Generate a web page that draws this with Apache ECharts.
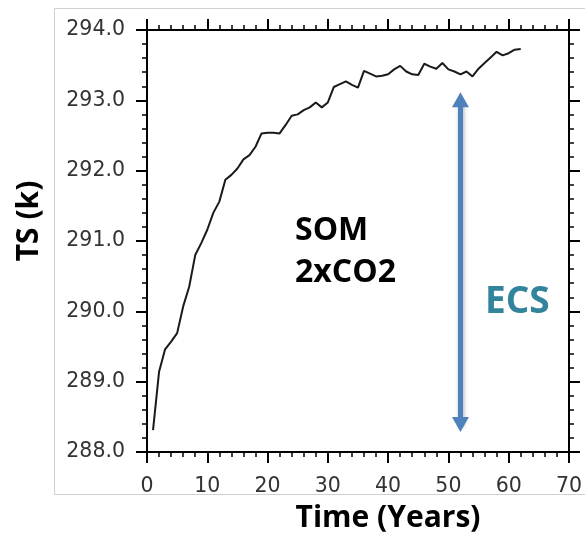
<!DOCTYPE html>
<html>
<head>
<meta charset="utf-8">
<script src="https://cdn.jsdelivr.net/npm/echarts@6/dist/echarts.min.js"></script>
<style>
  html, body { margin: 0; padding: 0; background: #fff; }
  #chart { width: 585px; height: 537px; }
</style>
</head>
<body>
<div id="chart"></div>
<script>
// Slab-ocean model run with doubled CO2: global-mean surface temperature by year
const years = [
  1, 2, 3, 4, 5, 6, 7, 8, 9, 10,
  11, 12, 13, 14, 15, 16, 17, 18, 19, 20,
  21, 22, 23, 24, 25, 26, 27, 28, 29, 30,
  31, 32, 33, 34, 35, 36, 37, 38, 39, 40,
  41, 42, 43, 44, 45, 46, 47, 48, 49, 50,
  51, 52, 53, 54, 55, 56, 57, 58, 59, 60,
  61, 62
];
const tsValues = [
  288.31, 289.14, 289.46, 289.57, 289.69, 290.07, 290.35, 290.80, 290.97, 291.16,
  291.40, 291.56, 291.87, 291.94, 292.03, 292.16, 292.22, 292.34, 292.53, 292.54,
  292.54, 292.53, 292.65, 292.78, 292.80, 292.86, 292.90, 292.97, 292.90, 292.97,
  293.19, 293.23, 293.27, 293.22, 293.18, 293.42, 293.38, 293.34, 293.35, 293.37,
  293.44, 293.49, 293.41, 293.37, 293.36, 293.52, 293.48, 293.45, 293.53, 293.44,
  293.41, 293.37, 293.41, 293.34, 293.45, 293.53, 293.61, 293.69, 293.64, 293.67,
  293.72, 293.73
];
// Equilibrium climate sensitivity double arrow (year, arrowhead centres in TS)
const ecsYear = 52;
const ecsFrom = 288.39;
const ecsTo = 293.01;

const xTicks = { min: 0, max: 70, interval: 10 };
const yTicks = { min: 288, max: 294, interval: 1 };

const points = years.map((y, i) => [y, tsValues[i]]);

const frameAxis = {
  axisLine: { show: true, onZero: false, lineStyle: { color: '#000', width: 2 } },
  axisTick: { show: true, inside: false, length: 11, lineStyle: { color: '#000', width: 2 } },
  minorTick: { show: true, splitNumber: 5, length: 5, lineStyle: { color: '#000', width: 1.5 } },
  splitLine: { show: false },
  minorSplitLine: { show: false }
};
const labelFont = { fontFamily: 'DejaVu Sans', fontSize: 20.5, color: '#333' };
const titleFont = 'bold 30px "Open Sans"';

const chart = echarts.init(document.getElementById('chart'), null, { renderer: 'canvas' });
chart.setOption({
  animation: false,
  backgroundColor: '#fff',
  grid: { left: 147, top: 30, right: 16, bottom: 85 },
  xAxis: [
    Object.assign({}, frameAxis, {
      type: 'value', position: 'bottom',
      min: xTicks.min, max: xTicks.max, interval: xTicks.interval,
      axisLabel: Object.assign({ margin: 24 }, labelFont)
    }),
    Object.assign({}, frameAxis, {
      type: 'value', position: 'top',
      min: xTicks.min, max: xTicks.max, interval: xTicks.interval,
      axisLabel: { show: false }
    })
  ],
  yAxis: [
    Object.assign({}, frameAxis, {
      type: 'value', position: 'left',
      min: yTicks.min, max: yTicks.max, interval: yTicks.interval,
      axisLabel: Object.assign({ margin: 22, formatter: v => v.toFixed(1) }, labelFont)
    }),
    Object.assign({}, frameAxis, {
      type: 'value', position: 'right',
      min: yTicks.min, max: yTicks.max, interval: yTicks.interval,
      axisLabel: { show: false }
    })
  ],
  series: [{
    type: 'line',
    data: points,
    xAxisIndex: 0,
    yAxisIndex: 0,
    showSymbol: false,
    symbol: 'none',
    lineStyle: { color: '#1a1a1a', width: 2 },
    markLine: {
      silent: true,
      symbol: ['triangle', 'triangle'],
      symbolSize: [17, 15],
      label: { show: false },
      lineStyle: {
        color: '#4F81BD', width: 5, type: 'solid',
        shadowBlur: 4, shadowColor: 'rgba(0,0,0,0.3)', shadowOffsetX: 1, shadowOffsetY: 2
      },
      data: [[{ coord: [ecsYear, ecsFrom] }, { coord: [ecsYear, ecsTo] }]]
    }
  }],
  graphic: [
    {
      type: 'rect', silent: true, z: -1,
      shape: { x: 54.5, y: 8.5, width: 560, height: 486 },
      style: { fill: null, stroke: '#d0d0d0', lineWidth: 1 }
    },
    {
      type: 'text', x: 388, y: 518,
      style: { text: 'Time (Years)', fill: '#000', font: titleFont, align: 'center', verticalAlign: 'middle' }
    },
    {
      type: 'text', x: 29, y: 221, rotation: Math.PI / 2,
      style: { text: 'TS (k)', fill: '#000', font: titleFont, align: 'center', verticalAlign: 'middle' }
    },
    {
      type: 'text', left: 295, top: 210,
      style: {
        text: 'SOM\n2xCO2', fill: '#000', lineHeight: 42,
        font: 'bold 32px "Open Sans"'
      }
    },
    {
      type: 'text', left: 485, top: 284,
      style: { text: 'ECS', fill: '#31849B', font: 'bold 37px "Open Sans"' }
    }
  ]
});
</script>
</body>
</html>
